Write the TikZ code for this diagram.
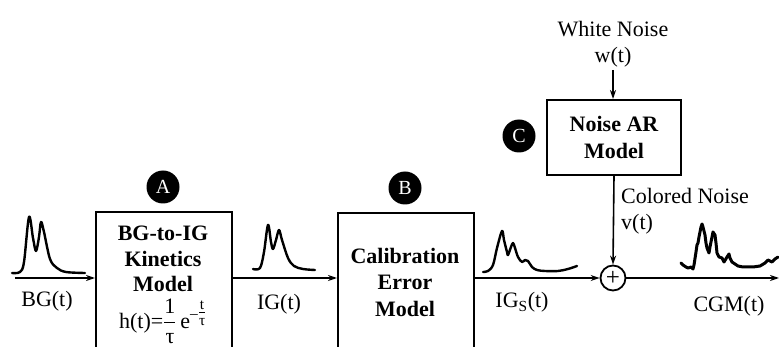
\RequirePackage{fix-cm}
\documentclass[tikz,border=0pt]{standalone}
\usepackage{amsmath}
\usepackage{fontspec}
\setmainfont{Liberation Serif}
\usetikzlibrary{arrows.meta,positioning}
\newcommand{\diagfont}{\fontsize{22}{26.5}\selectfont}
\newcommand{\mt}[1]{\text{\normalfont #1}}
\tikzset{
  sigarrow/.style={-{Stealth[length=9pt,width=6pt]}, line width=1.6pt},
  blockbox/.style={draw, line width=2pt, minimum width=136pt, inner sep=0pt},
  blocktext/.style={align=center, font=\diagfont\bfseries, inner sep=0pt},
  tagdot/.style={circle, fill=black, text=white, minimum size=33pt, inner sep=0pt,
    font=\fontsize{20}{20}\selectfont},
  sumnode/.style={circle, draw, fill=white, line width=1.8pt, minimum size=25pt,
    inner sep=0pt, font=\fontsize{25}{25}\selectfont},
  siglabel/.style={anchor=base, inner sep=0pt},
  wave/.style={line width=2.4pt, line join=round, line cap=round},
  noisywave/.style={line width=3pt, line join=round, line cap=round}
}

\begin{document}
\begin{tikzpicture}[x=1pt, y=-1pt, font=\diagfont]
    \useasboundingbox (0,0) rectangle (779,347);

    \node[blockbox, minimum height=160pt, anchor=north west] (kinbox) at (95,211) {};
    \node[blocktext, anchor=north, font=\fontsize{22}{25.5}\selectfont\bfseries] (kintxt) at (163,226)
        {BG-to-IG\\Kinetics\\Model\\[6pt]$\mt{h(t)}{\mt{=}}\dfrac{\mt{1}}{\mt{τ}}\,\mt{e}^{\mt{–}\genfrac{}{}{}{1}{\mt{t}}{\mt{τ}}}$};
    \node[blockbox, minimum height=160pt, anchor=north west] (calbox) at (337,212) {};
    \node[blocktext, anchor=north] (caltxt) at (405,248) {Calibration\\Error\\Model};
    \node[blockbox, blocktext, minimum width=134pt, minimum height=75pt, anchor=north west] (arbox) at (546,99) {Noise AR\\Model};

    \node[tagdot] (tagA) at (163,187) {A};
    \node[tagdot] (tagB) at (405,188) {B};
    \node[tagdot] (tagC) at (519,136) {C};

    \node[sumnode] (sum) at (613,278) {+};
    \coordinate (bgin) at (15,278);
    \coordinate (cgmout) at (779,278);

    \node[align=center, inner sep=0pt, anchor=north] (wn) at (613,21) {White Noise\\w(t)};
    \node[align=left, inner sep=0pt, anchor=north west] (cnlab) at (621,188) {Colored Noise\\v(t)};

    \node[siglabel] (bglab) at (47,307) {BG(t)};
    \node[siglabel] (iglab) at (279,309) {IG(t)};
    \node[siglabel] (igslab) at (522,308) {IG\textsubscript{S}(t)};
    \node[siglabel] (cgmlab) at (729,312) {CGM(t)};

    \draw[sigarrow] (bgin) -- (bgin -| kinbox.west);
    \draw[sigarrow] (kinbox.east |- bgin) -- (calbox.west |- bgin);
    \draw[sigarrow] (calbox.east |- bgin) -- (sum.west);
    \draw[sigarrow] (sum.east) -- (cgmout);
    \draw[sigarrow, shorten <=2pt] (wn.south) -- (wn.south |- arbox.north);
    \draw[sigarrow] (arbox.south) -- (sum.north);

    \draw[wave] plot[smooth, tension=0.55] coordinates {(12,273) (20,272) (24,262) (29,217) (33,238) (36,251) (39,237) (41,222) (44,232) (50,259) (57,268) (66,272) (85,273)};
    \draw[wave] plot[smooth, tension=0.55] coordinates {(253,269) (260,268) (264,252) (268,225) (271,242) (273,249) (276,240) (279,230) (282,240) (288,258) (294,266) (303,269) (315,270)};
    \draw[wave] plot[smooth, tension=0.55] coordinates {(483,272) (488,271) (493,265) (497,248) (502,231) (504,240) (507,252) (508,255) (511,247) (513,243) (515,248) (518,257) (522,262) (525,260) (528,261) (532,267) (537,270) (545,271) (558,271) (568,269) (577,266)};
    \draw[noisywave] (681,263) -- (683,265) -- (686,267) -- (688,268) -- (691,267) -- (693,269) -- (694,265) -- (696,252) -- (697,245) -- (698,243) -- (699,237) -- (701,227) -- (702,224) -- (703,227) -- (705,235) -- (706,243) -- (707,248) -- (709,253) -- (710,247) -- (712,237) -- (713,232) -- (715,235) -- (716,243) -- (717,253) -- (719,257) -- (722,258) -- (724,262) -- (727,257) -- (729,254) -- (730,258) -- (732,262) -- (735,264) -- (738,266) -- (743,267) -- (753,267) -- (760,266) -- (765,263) -- (768,260) -- (772,262) -- (775,259) -- (778,257);
\end{tikzpicture}
\end{document}
